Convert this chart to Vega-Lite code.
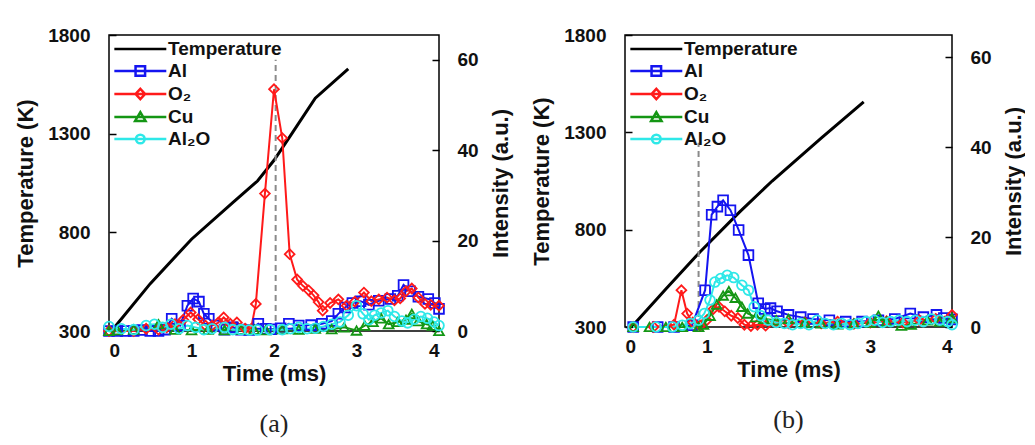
{
  "$schema": "https://vega.github.io/schema/vega-lite/v6.json",
  "padding": {"left": 13, "top": 25, "right": 0, "bottom": 0},
  "spacing": 17,
  "config": {
    "font": "Liberation Sans",
    "view": {"stroke": "black", "strokeWidth": 1.5},
    "axis": {"labelFontSize": 19, "labelFontWeight": "bold", "labelColor": "#111", "titleFontSize": 22, "titleFontWeight": "bold", "titleColor": "#111", "grid": false, "domain": false, "tickColor": "black", "tickWidth": 1.5, "format": "d"},
    "legend": {"labelFontSize": 19, "labelFontWeight": "bold", "labelColor": "#111"}
  },
  "datasets": {
    "a": [
      {"s":"Temperature","t":0.05,"v":310},{"s":"Temperature","t":0.5,"v":540},{"s":"Temperature","t":1.0,"v":765},{"s":"Temperature","t":1.5,"v":950},{"s":"Temperature","t":1.8,"v":1060},{"s":"Temperature","t":2.0,"v":1165},{"s":"Temperature","t":2.2,"v":1290},{"s":"Temperature","t":2.5,"v":1480},{"s":"Temperature","t":2.9,"v":1628},
      {"s":"rule","t":2.02,"v":0,"v2":60},
      {"s":"Al","t":0,"v":0},{"s":"Al","t":0.1,"v":0},{"s":"Al","t":0.2,"v":0},{"s":"Al","t":0.3,"v":0},{"s":"Al","t":0.4,"v":0.2},{"s":"Al","t":0.5,"v":0},{"s":"Al","t":0.6,"v":0},{"s":"Al","t":0.68,"v":0.3},{"s":"Al","t":0.76,"v":2.7},{"s":"Al","t":0.86,"v":1.2},{"s":"Al","t":0.95,"v":5.6},{"s":"Al","t":1.02,"v":7.2},{"s":"Al","t":1.09,"v":6.5},{"s":"Al","t":1.15,"v":3.8},{"s":"Al","t":1.21,"v":2.7},{"s":"Al","t":1.3,"v":1.2},{"s":"Al","t":1.4,"v":0.3},{"s":"Al","t":1.5,"v":0.8},{"s":"Al","t":1.6,"v":0.3},{"s":"Al","t":1.7,"v":0.2},{"s":"Al","t":1.81,"v":1.6},{"s":"Al","t":1.9,"v":0.5},{"s":"Al","t":1.97,"v":0.4},{"s":"Al","t":2.08,"v":0.6},{"s":"Al","t":2.18,"v":1.6},{"s":"Al","t":2.3,"v":1.2},{"s":"Al","t":2.45,"v":1.3},{"s":"Al","t":2.58,"v":1.6},{"s":"Al","t":2.7,"v":2.2},{"s":"Al","t":2.78,"v":3.8},{"s":"Al","t":2.86,"v":5.2},{"s":"Al","t":2.95,"v":6.2},{"s":"Al","t":3.05,"v":6.6},{"s":"Al","t":3.15,"v":5.8},{"s":"Al","t":3.27,"v":6.7},{"s":"Al","t":3.41,"v":7.1},{"s":"Al","t":3.5,"v":7.8},{"s":"Al","t":3.57,"v":10.2},{"s":"Al","t":3.65,"v":8.8},{"s":"Al","t":3.75,"v":7.6},{"s":"Al","t":3.87,"v":7.1},{"s":"Al","t":3.95,"v":6.2},{"s":"Al","t":4.0,"v":4.9},
      {"s":"O₂","t":0,"v":0},{"s":"O₂","t":0.3,"v":0},{"s":"O₂","t":0.45,"v":0.5},{"s":"O₂","t":0.6,"v":0.3},{"s":"O₂","t":0.7,"v":0.8},{"s":"O₂","t":0.8,"v":1.5},{"s":"O₂","t":0.9,"v":2.5},{"s":"O₂","t":0.99,"v":4.1},{"s":"O₂","t":1.08,"v":2.6},{"s":"O₂","t":1.17,"v":1.2},{"s":"O₂","t":1.25,"v":1.2},{"s":"O₂","t":1.32,"v":1.8},{"s":"O₂","t":1.39,"v":3.0},{"s":"O₂","t":1.47,"v":1.6},{"s":"O₂","t":1.55,"v":1.9},{"s":"O₂","t":1.65,"v":0.5},{"s":"O₂","t":1.72,"v":0.4},{"s":"O₂","t":1.78,"v":6.0},{"s":"O₂","t":1.89,"v":30.4},{"s":"O₂","t":2.0,"v":53.5},{"s":"O₂","t":2.1,"v":42.7},{"s":"O₂","t":2.19,"v":17.0},{"s":"O₂","t":2.28,"v":11.4},{"s":"O₂","t":2.35,"v":10.0},{"s":"O₂","t":2.42,"v":9.0},{"s":"O₂","t":2.48,"v":7.9},{"s":"O₂","t":2.54,"v":6.4},{"s":"O₂","t":2.59,"v":4.5},{"s":"O₂","t":2.68,"v":6.2},{"s":"O₂","t":2.78,"v":7.0},{"s":"O₂","t":2.88,"v":5.6},{"s":"O₂","t":2.98,"v":6.5},{"s":"O₂","t":3.09,"v":8.5},{"s":"O₂","t":3.18,"v":6.6},{"s":"O₂","t":3.27,"v":7.0},{"s":"O₂","t":3.37,"v":7.4},{"s":"O₂","t":3.46,"v":6.8},{"s":"O₂","t":3.53,"v":7.2},{"s":"O₂","t":3.6,"v":8.8},{"s":"O₂","t":3.67,"v":9.4},{"s":"O₂","t":3.75,"v":7.4},{"s":"O₂","t":3.83,"v":6.0},{"s":"O₂","t":3.9,"v":5.8},{"s":"O₂","t":4.0,"v":5.6},
      {"s":"Cu","t":0,"v":0},{"s":"Cu","t":0.1,"v":0.2},{"s":"Cu","t":0.3,"v":0.3},{"s":"Cu","t":0.6,"v":1.5},{"s":"Cu","t":0.8,"v":0.3},{"s":"Cu","t":1.0,"v":0.2},{"s":"Cu","t":1.2,"v":0.3},{"s":"Cu","t":1.4,"v":0.2},{"s":"Cu","t":1.6,"v":0.3},{"s":"Cu","t":1.76,"v":0.3},{"s":"Cu","t":1.9,"v":0.2},{"s":"Cu","t":2.1,"v":0.4},{"s":"Cu","t":2.3,"v":0.3},{"s":"Cu","t":2.5,"v":0.5},{"s":"Cu","t":2.7,"v":0.4},{"s":"Cu","t":2.85,"v":0.8},{"s":"Cu","t":3.0,"v":0.1},{"s":"Cu","t":3.1,"v":1.2},{"s":"Cu","t":3.2,"v":2.0},{"s":"Cu","t":3.3,"v":2.8},{"s":"Cu","t":3.39,"v":1.5},{"s":"Cu","t":3.5,"v":2.0},{"s":"Cu","t":3.6,"v":2.5},{"s":"Cu","t":3.67,"v":3.8},{"s":"Cu","t":3.75,"v":2.2},{"s":"Cu","t":3.85,"v":1.5},{"s":"Cu","t":3.92,"v":1.2},{"s":"Cu","t":4.0,"v":0},
      {"s":"Al₂O","t":0,"v":1.0},{"s":"Al₂O","t":0.15,"v":0.5},{"s":"Al₂O","t":0.3,"v":0.3},{"s":"Al₂O","t":0.45,"v":1.2},{"s":"Al₂O","t":0.55,"v":1.5},{"s":"Al₂O","t":0.65,"v":0.8},{"s":"Al₂O","t":0.75,"v":1.5},{"s":"Al₂O","t":0.85,"v":0.5},{"s":"Al₂O","t":0.95,"v":1.2},{"s":"Al₂O","t":1.05,"v":0.8},{"s":"Al₂O","t":1.15,"v":0.3},{"s":"Al₂O","t":1.25,"v":0.5},{"s":"Al₂O","t":1.4,"v":0.8},{"s":"Al₂O","t":1.5,"v":0.3},{"s":"Al₂O","t":1.6,"v":0.3},{"s":"Al₂O","t":1.7,"v":0.2},{"s":"Al₂O","t":1.8,"v":0.2},{"s":"Al₂O","t":1.95,"v":0.3},{"s":"Al₂O","t":2.1,"v":0.3},{"s":"Al₂O","t":2.2,"v":0.5},{"s":"Al₂O","t":2.3,"v":0.8},{"s":"Al₂O","t":2.4,"v":0.5},{"s":"Al₂O","t":2.5,"v":0.6},{"s":"Al₂O","t":2.6,"v":1.0},{"s":"Al₂O","t":2.7,"v":1.5},{"s":"Al₂O","t":2.8,"v":2.0},{"s":"Al₂O","t":2.9,"v":3.5},{"s":"Al₂O","t":3.0,"v":5.6},{"s":"Al₂O","t":3.08,"v":3.8},{"s":"Al₂O","t":3.15,"v":2.5},{"s":"Al₂O","t":3.22,"v":3.5},{"s":"Al₂O","t":3.3,"v":4.0},{"s":"Al₂O","t":3.38,"v":4.5},{"s":"Al₂O","t":3.46,"v":3.2},{"s":"Al₂O","t":3.55,"v":2.2},{"s":"Al₂O","t":3.62,"v":1.8},{"s":"Al₂O","t":3.7,"v":2.6},{"s":"Al₂O","t":3.78,"v":3.2},{"s":"Al₂O","t":3.86,"v":2.8},{"s":"Al₂O","t":3.94,"v":2.0},{"s":"Al₂O","t":4.0,"v":1.2}
    ],
    "b": [
      {"s":"Temperature","t":0.08,"v":300},{"s":"Temperature","t":0.5,"v":495},{"s":"Temperature","t":0.92,"v":687},{"s":"Temperature","t":1.4,"v":890},{"s":"Temperature","t":1.8,"v":1050},{"s":"Temperature","t":2.4,"v":1270},{"s":"Temperature","t":2.92,"v":1457},
      {"s":"rule","t":0.9,"v":0,"v2":41},
      {"s":"Al","t":0.1,"v":0},{"s":"Al","t":0.4,"v":0},{"s":"Al","t":0.6,"v":0},{"s":"Al","t":0.82,"v":0.4},{"s":"Al","t":0.98,"v":8.2},{"s":"Al","t":1.06,"v":25.0},{"s":"Al","t":1.13,"v":26.8},{"s":"Al","t":1.2,"v":28.2},{"s":"Al","t":1.29,"v":26.0},{"s":"Al","t":1.39,"v":21.6},{"s":"Al","t":1.51,"v":16.0},{"s":"Al","t":1.63,"v":5.3},{"s":"Al","t":1.71,"v":4.0},{"s":"Al","t":1.78,"v":4.2},{"s":"Al","t":1.86,"v":3.5},{"s":"Al","t":2.0,"v":2.7},{"s":"Al","t":2.15,"v":2.2},{"s":"Al","t":2.3,"v":1.8},{"s":"Al","t":2.5,"v":1.5},{"s":"Al","t":2.7,"v":1.2},{"s":"Al","t":2.9,"v":1.2},{"s":"Al","t":3.1,"v":1.5},{"s":"Al","t":3.3,"v":1.8},{"s":"Al","t":3.49,"v":3.0},{"s":"Al","t":3.65,"v":2.2},{"s":"Al","t":3.81,"v":2.7},{"s":"Al","t":3.9,"v":2.0},{"s":"Al","t":4.0,"v":1.7},
      {"s":"O₂","t":0.1,"v":0},{"s":"O₂","t":0.35,"v":0},{"s":"O₂","t":0.6,"v":0.5},{"s":"O₂","t":0.69,"v":8.2},{"s":"O₂","t":0.76,"v":3.0},{"s":"O₂","t":0.83,"v":1.0},{"s":"O₂","t":0.92,"v":0.3},{"s":"O₂","t":1.0,"v":1.5},{"s":"O₂","t":1.08,"v":4.0},{"s":"O₂","t":1.15,"v":4.5},{"s":"O₂","t":1.22,"v":3.5},{"s":"O₂","t":1.3,"v":2.5},{"s":"O₂","t":1.38,"v":2.0},{"s":"O₂","t":1.46,"v":0.5},{"s":"O₂","t":1.54,"v":0.2},{"s":"O₂","t":1.62,"v":0.5},{"s":"O₂","t":1.72,"v":0.3},{"s":"O₂","t":1.85,"v":1.2},{"s":"O₂","t":2.0,"v":0.8},{"s":"O₂","t":2.2,"v":1.0},{"s":"O₂","t":2.4,"v":0.8},{"s":"O₂","t":2.6,"v":1.2},{"s":"O₂","t":2.8,"v":0.7},{"s":"O₂","t":3.0,"v":1.0},{"s":"O₂","t":3.2,"v":1.3},{"s":"O₂","t":3.4,"v":1.0},{"s":"O₂","t":3.6,"v":1.5},{"s":"O₂","t":3.8,"v":1.8},{"s":"O₂","t":4.0,"v":2.7},
      {"s":"Cu","t":0.1,"v":0},{"s":"Cu","t":0.3,"v":0},{"s":"Cu","t":0.5,"v":0},{"s":"Cu","t":0.7,"v":0},{"s":"Cu","t":0.9,"v":0},{"s":"Cu","t":0.96,"v":0.5},{"s":"Cu","t":1.04,"v":2.5},{"s":"Cu","t":1.12,"v":5.0},{"s":"Cu","t":1.2,"v":7.0},{"s":"Cu","t":1.27,"v":8.0},{"s":"Cu","t":1.35,"v":6.5},{"s":"Cu","t":1.43,"v":4.5},{"s":"Cu","t":1.5,"v":3.0},{"s":"Cu","t":1.6,"v":2.2},{"s":"Cu","t":1.7,"v":1.8},{"s":"Cu","t":1.85,"v":1.5},{"s":"Cu","t":2.0,"v":1.8},{"s":"Cu","t":2.2,"v":1.0},{"s":"Cu","t":2.4,"v":0.8},{"s":"Cu","t":2.6,"v":0.6},{"s":"Cu","t":2.8,"v":0.8},{"s":"Cu","t":3.0,"v":1.0},{"s":"Cu","t":3.1,"v":2.5},{"s":"Cu","t":3.2,"v":1.2},{"s":"Cu","t":3.38,"v":0.3},{"s":"Cu","t":3.5,"v":0.5},{"s":"Cu","t":3.7,"v":1.5},{"s":"Cu","t":3.85,"v":1.2},{"s":"Cu","t":4.0,"v":2.0},
      {"s":"Al₂O","t":0.1,"v":0},{"s":"Al₂O","t":0.38,"v":0},{"s":"Al₂O","t":0.58,"v":0},{"s":"Al₂O","t":0.7,"v":0.4},{"s":"Al₂O","t":0.8,"v":0.8},{"s":"Al₂O","t":0.9,"v":1.5},{"s":"Al₂O","t":0.97,"v":3.0},{"s":"Al₂O","t":1.04,"v":6.0},{"s":"Al₂O","t":1.1,"v":10.0},{"s":"Al₂O","t":1.17,"v":10.8},{"s":"Al₂O","t":1.25,"v":11.5},{"s":"Al₂O","t":1.33,"v":11.0},{"s":"Al₂O","t":1.43,"v":9.3},{"s":"Al₂O","t":1.51,"v":8.2},{"s":"Al₂O","t":1.58,"v":4.5},{"s":"Al₂O","t":1.66,"v":2.5},{"s":"Al₂O","t":1.75,"v":1.5},{"s":"Al₂O","t":1.85,"v":1.0},{"s":"Al₂O","t":1.95,"v":0.8},{"s":"Al₂O","t":2.05,"v":0.5},{"s":"Al₂O","t":2.15,"v":0.8},{"s":"Al₂O","t":2.25,"v":0.5},{"s":"Al₂O","t":2.35,"v":1.5},{"s":"Al₂O","t":2.45,"v":0.8},{"s":"Al₂O","t":2.55,"v":0.5},{"s":"Al₂O","t":2.65,"v":0.8},{"s":"Al₂O","t":2.75,"v":0.5},{"s":"Al₂O","t":2.85,"v":0.8},{"s":"Al₂O","t":2.95,"v":1.2},{"s":"Al₂O","t":3.05,"v":1.5},{"s":"Al₂O","t":3.15,"v":1.0},{"s":"Al₂O","t":3.25,"v":1.2},{"s":"Al₂O","t":3.35,"v":1.5},{"s":"Al₂O","t":3.45,"v":1.2},{"s":"Al₂O","t":3.55,"v":1.5},{"s":"Al₂O","t":3.65,"v":1.2},{"s":"Al₂O","t":3.75,"v":1.8},{"s":"Al₂O","t":3.85,"v":1.5},{"s":"Al₂O","t":3.95,"v":1.2},{"s":"Al₂O","t":4.0,"v":0.5}
    ]
  },
  "hconcat": [
    {
      "width": 330, "height": 296,
      "data": {"name": "a"},
      "title": {"text": "(a)", "orient": "bottom", "font": "Liberation Serif", "fontSize": 26, "fontWeight": "normal", "color": "#222", "offset": 27, "anchor": "middle"},
      "encoding": {"x": {"field": "t", "type": "quantitative", "scale": {"domain": [0, 4]}, "axis": {"title": "Time (ms)", "values": [0,1,2,3,4], "ticks": false, "labelPadding": 10, "titlePadding": 3}}},
      "layer": [
        {"transform": [{"filter": "datum.s==='Temperature'"}],
         "mark": {"type": "line", "color": "black", "strokeWidth": 3},
         "encoding": {"y": {"field": "v", "type": "quantitative", "scale": {"domain": [300, 1800]}, "axis": {"title": "Temperature (K)", "orient": "left", "values": [300,800,1300,1800], "tickSize": -7, "labelPadding": 26, "titlePadding": 10}}}},
        {"encoding": {"y": {"field": "v", "type": "quantitative", "scale": {"domain": [0, 65.5]}, "axis": {"title": "Intensity (a.u.)", "orient": "right", "values": [0,20,40,60], "tickSize": -7, "labelPadding": 25, "titlePadding": 12, "titleAngle": 270, "titleBaseline": "top"}}},
         "layer": [
          {"transform": [{"filter": "datum.s==='rule'"}], "mark": {"type": "rule", "color": "#8a8a8a", "strokeDash": [6, 4], "strokeWidth": 2}, "encoding": {"y2": {"field": "v2"}}},
          {"transform": [{"filter": "datum.s!=='Temperature' && datum.s!=='rule'"}], "mark": {"type": "line", "strokeWidth": 2},
           "encoding": {"color": {"field": "s", "type": "nominal", "scale": {"domain": ["Temperature","Al","O₂","Cu","Al₂O"], "range": ["black","#1414f0","#ff1a1a","#149614","#2ee8e8"]}, "legend": null}}},
          {"transform": [{"filter": "datum.s!=='Temperature' && datum.s!=='rule'"}], "mark": {"type": "point", "filled": false, "strokeWidth": 1.8, "size": 95, "opacity": 1},
           "encoding": {"color": {"field": "s", "type": "nominal", "scale": {"domain": ["Temperature","Al","O₂","Cu","Al₂O"], "range": ["black","#1414f0","#ff1a1a","#149614","#2ee8e8"]}, "legend": null},
                        "shape": {"field": "s", "type": "nominal", "scale": {"domain": ["Al","O₂","Cu","Al₂O"], "range": ["square","diamond","triangle-up","circle"]}, "legend": null}}},
          {"transform": [{"filter": "datum.s!=='Temperature' && datum.s!=='rule'"}], "mark": {"type": "point", "filled": false, "opacity": 0, "size": 300, "strokeWidth": 2.5},
           "encoding": {"color": {"field": "s", "type": "nominal", "scale": {"domain": ["Temperature","Al","O₂","Cu","Al₂O"], "range": ["black","#1414f0","#ff1a1a","#149614","#2ee8e8"]}, "legend": {"title": null, "orient": "top-left", "offset": 4, "padding": 0, "rowPadding": 2, "symbolOpacity": 1, "symbolSize": 300, "symbolStrokeWidth": 2.5, "symbolFillColor": "white", "labelOffset": 35}},
                        "shape": {"field": "s", "type": "nominal", "scale": {"domain": ["Temperature","Al","O₂","Cu","Al₂O"], "range": ["M-1,0L5,0", "M-1,0L5,0M1.45,-0.55L2.55,-0.55L2.55,0.55L1.45,0.55Z", "M-1,0L5,0M2,-0.6L2.55,0L2,0.6L1.45,0Z", "M-1,0L5,0M2,-0.55L2.6,0.45L1.4,0.45Z", "M-1,0L5,0M2.5,0A0.5,0.5,0,1,1,1.5,0A0.5,0.5,0,1,1,2.5,0Z"]}, "legend": {"title": null, "orient": "top-left", "offset": 4, "padding": 0, "rowPadding": 2, "symbolOpacity": 1, "symbolSize": 300, "symbolStrokeWidth": 2.5, "symbolFillColor": "white", "labelOffset": 35}}}}
         ],
         "resolve": {"scale": {"shape": "independent"}, "legend": {"color": "independent"}}}
      ],
      "resolve": {"scale": {"y": "independent"}}
    },
    {
      "width": 327, "height": 292,
      "data": {"name": "b"},
      "title": {"text": "(b)", "orient": "bottom", "font": "Liberation Serif", "fontSize": 26, "fontWeight": "normal", "color": "#222", "offset": 27, "anchor": "middle"},
      "encoding": {"x": {"field": "t", "type": "quantitative", "scale": {"domain": [0, 4]}, "axis": {"title": "Time (ms)", "values": [0,1,2,3,4], "ticks": false, "labelPadding": 10, "titlePadding": 3}}},
      "layer": [
        {"transform": [{"filter": "datum.s==='Temperature'"}],
         "mark": {"type": "line", "color": "black", "strokeWidth": 3},
         "encoding": {"y": {"field": "v", "type": "quantitative", "scale": {"domain": [300, 1800]}, "axis": {"title": "Temperature (K)", "orient": "left", "values": [300,800,1300,1800], "tickSize": -7, "labelPadding": 26, "titlePadding": 10}}}},
        {"encoding": {"y": {"field": "v", "type": "quantitative", "scale": {"domain": [0, 65]}, "axis": {"title": "Intensity (a.u.)", "orient": "right", "values": [0,20,40,60], "tickSize": -7, "labelPadding": 25, "titlePadding": 12, "titleAngle": 270, "titleBaseline": "top"}}},
         "layer": [
          {"transform": [{"filter": "datum.s==='rule'"}], "mark": {"type": "rule", "color": "#8a8a8a", "strokeDash": [6, 4], "strokeWidth": 2}, "encoding": {"y2": {"field": "v2"}}},
          {"transform": [{"filter": "datum.s!=='Temperature' && datum.s!=='rule'"}], "mark": {"type": "line", "strokeWidth": 2},
           "encoding": {"color": {"field": "s", "type": "nominal", "scale": {"domain": ["Temperature","Al","O₂","Cu","Al₂O"], "range": ["black","#1414f0","#ff1a1a","#149614","#2ee8e8"]}, "legend": null}}},
          {"transform": [{"filter": "datum.s!=='Temperature' && datum.s!=='rule'"}], "mark": {"type": "point", "filled": false, "strokeWidth": 1.8, "size": 95, "opacity": 1},
           "encoding": {"color": {"field": "s", "type": "nominal", "scale": {"domain": ["Temperature","Al","O₂","Cu","Al₂O"], "range": ["black","#1414f0","#ff1a1a","#149614","#2ee8e8"]}, "legend": null},
                        "shape": {"field": "s", "type": "nominal", "scale": {"domain": ["Al","O₂","Cu","Al₂O"], "range": ["square","diamond","triangle-up","circle"]}, "legend": null}}},
          {"transform": [{"filter": "datum.s!=='Temperature' && datum.s!=='rule'"}], "mark": {"type": "point", "filled": false, "opacity": 0, "size": 300, "strokeWidth": 2.5},
           "encoding": {"color": {"field": "s", "type": "nominal", "scale": {"domain": ["Temperature","Al","O₂","Cu","Al₂O"], "range": ["black","#1414f0","#ff1a1a","#149614","#2ee8e8"]}, "legend": {"title": null, "orient": "top-left", "offset": 4, "padding": 0, "rowPadding": 2, "symbolOpacity": 1, "symbolSize": 300, "symbolStrokeWidth": 2.5, "symbolFillColor": "white", "labelOffset": 35}},
                        "shape": {"field": "s", "type": "nominal", "scale": {"domain": ["Temperature","Al","O₂","Cu","Al₂O"], "range": ["M-1,0L5,0", "M-1,0L5,0M1.45,-0.55L2.55,-0.55L2.55,0.55L1.45,0.55Z", "M-1,0L5,0M2,-0.6L2.55,0L2,0.6L1.45,0Z", "M-1,0L5,0M2,-0.55L2.6,0.45L1.4,0.45Z", "M-1,0L5,0M2.5,0A0.5,0.5,0,1,1,1.5,0A0.5,0.5,0,1,1,2.5,0Z"]}, "legend": {"title": null, "orient": "top-left", "offset": 4, "padding": 0, "rowPadding": 2, "symbolOpacity": 1, "symbolSize": 300, "symbolStrokeWidth": 2.5, "symbolFillColor": "white", "labelOffset": 35}}}}
         ],
         "resolve": {"scale": {"shape": "independent"}, "legend": {"color": "independent"}}}
      ],
      "resolve": {"scale": {"y": "independent"}}
    }
  ]
}
